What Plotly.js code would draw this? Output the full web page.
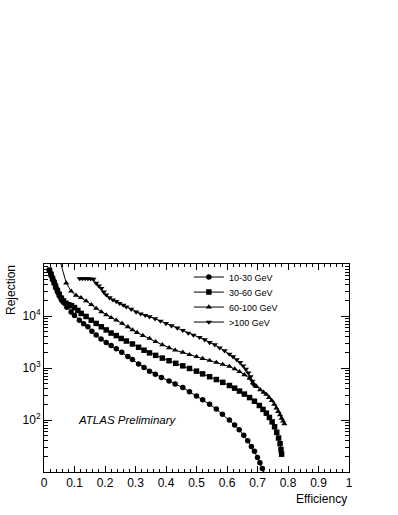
<!DOCTYPE html>
<html>
<head>
<meta charset="utf-8">
<script src="https://cdn.plot.ly/plotly-3.0.1.min.js"></script>
<style>
  html, body { margin: 0; padding: 0; background: white; }
  #chart { width: 398px; height: 515px; }
</style>
</head>
<body>
<div id="chart"></div>
<script>
// efficiency / rejection
const eff10_30 = [0.018, 0.022, 0.026, 0.030, 0.035, 0.040, 0.046, 0.052, 0.058, 0.065, 0.075, 0.089, 0.100, 0.116, 0.130, 0.144, 0.157, 0.171, 0.187, 0.204, 0.220, 0.237, 0.255, 0.275, 0.290, 0.310, 0.328, 0.346, 0.365, 0.385, 0.410, 0.430, 0.455, 0.477, 0.500, 0.520, 0.543, 0.565, 0.585, 0.608, 0.625, 0.640, 0.655, 0.668, 0.680, 0.690, 0.700, 0.708, 0.716, 0.722];
const rej10_30 = [76000, 66000, 57000, 49000, 42000, 34000, 28000, 23500, 20000, 18000, 14800, 12000, 10200, 8300, 7100, 6200, 5100, 4300, 3600, 3100, 2700, 2350, 2000, 1660, 1450, 1200, 1020, 870, 760, 660, 560, 490, 420, 350, 290, 245, 200, 162, 129, 100, 80, 65, 51, 40, 31, 25, 19, 15, 11.7, 9];

const eff30_60 = [0.018, 0.023, 0.028, 0.033, 0.038, 0.044, 0.050, 0.057, 0.064, 0.072, 0.081, 0.090, 0.100, 0.111, 0.122, 0.138, 0.155, 0.171, 0.188, 0.204, 0.220, 0.237, 0.253, 0.270, 0.290, 0.310, 0.328, 0.346, 0.366, 0.388, 0.410, 0.432, 0.455, 0.477, 0.500, 0.520, 0.543, 0.565, 0.586, 0.608, 0.625, 0.641, 0.657, 0.674, 0.690, 0.706, 0.718, 0.729, 0.739, 0.748, 0.756, 0.763, 0.769, 0.774, 0.777, 0.779];
const rej30_60 = [76000, 63000, 52000, 44000, 37000, 31000, 26000, 22000, 19500, 17500, 16500, 15800, 14500, 12800, 11200, 9800, 8300, 7200, 6200, 5400, 4700, 4200, 3700, 3300, 2900, 2500, 2200, 1950, 1750, 1550, 1380, 1230, 1100, 980, 870, 770, 680, 600, 530, 460, 410, 360, 315, 270, 230, 190, 160, 135, 112, 92, 74, 58, 45, 35, 27, 22];

const eff60_100 = [0.050, 0.073, 0.089, 0.105, 0.121, 0.138, 0.155, 0.171, 0.188, 0.204, 0.220, 0.237, 0.256, 0.275, 0.290, 0.305, 0.324, 0.346, 0.366, 0.388, 0.410, 0.430, 0.455, 0.477, 0.500, 0.520, 0.543, 0.565, 0.586, 0.608, 0.625, 0.641, 0.657, 0.674, 0.685, 0.697, 0.709, 0.720, 0.729, 0.738, 0.747, 0.755, 0.762, 0.768, 0.774, 0.779, 0.784, 0.788];
const rej60_100 = [130000, 43000, 30000, 25000, 22500, 19500, 16500, 14000, 12000, 10500, 9300, 8300, 7200, 6200, 5400, 4800, 4200, 3700, 3200, 2800, 2450, 2200, 2000, 1800, 1650, 1520, 1400, 1280, 1170, 1070, 960, 850, 740, 630, 520, 440, 380, 340, 310, 270, 235, 200, 170, 145, 125, 108, 95, 84];

const eff100 = [0.117, 0.126, 0.135, 0.144, 0.153, 0.162, 0.171, 0.180, 0.188, 0.196, 0.204, 0.215, 0.226, 0.237, 0.248, 0.260, 0.270, 0.286, 0.302, 0.317, 0.332, 0.346, 0.364, 0.382, 0.400, 0.418, 0.437, 0.455, 0.473, 0.490, 0.510, 0.527, 0.543, 0.560, 0.576, 0.592, 0.608, 0.620, 0.632, 0.643, 0.653, 0.662, 0.670, 0.677, 0.683, 0.688];
const rej100 = [52500, 52500, 52500, 52500, 52000, 51000, 43000, 38000, 34000, 29000, 25500, 22500, 20500, 19000, 17500, 16200, 15000, 13500, 12000, 11000, 10300, 9700, 8900, 8000, 7200, 6500, 5900, 5300, 4700, 4300, 3900, 3500, 3100, 2800, 2450, 2150, 1850, 1650, 1450, 1280, 1100, 950, 810, 680, 560, 470];

const seriesNames = ["10-30 GeV", "30-60 GeV", "60-100 GeV", ">100 GeV"];
const seriesSymbols = ["circle", "square", "triangle-up", "triangle-down"];
const seriesSizes = [5.5, 5.5, 5.5, 5.5];

const xTickVals = [0, 0.1, 0.2, 0.3, 0.4, 0.5, 0.6, 0.7, 0.8, 0.9, 1];
const xTickText = ["0", "0.1", "0.2", "0.3", "0.4", "0.5", "0.6", "0.7", "0.8", "0.9", "1"];
const yTickVals = [100, 1000, 10000];
const yTickText = ["10<sup>2</sup>", "10<sup>3</sup>", "10<sup>4</sup>"];

// minor ticks of the log axis: 2..9 in each decade
const yMinor = [];
for (let d = 1; d <= 4; d++) {
  for (let m = 2; m <= 9; m++) yMinor.push(m * Math.pow(10, d));
}

const FONT = "Liberation Sans, Arial, Helvetica, sans-serif";

const xs = [eff10_30, eff30_60, eff60_100, eff100];
const ys = [rej10_30, rej30_60, rej60_100, rej100];
const legendIds = ["legend", "legend2", "legend3", "legend4"];
const legendY = [0.9375, 0.865, 0.793, 0.721];

const traces = xs.map((x, i) => ({
  x: x,
  y: ys[i],
  type: "scatter",
  mode: "lines+markers",
  name: seriesNames[i],
  legend: legendIds[i],
  line: { color: "black", width: 1 },
  marker: { symbol: seriesSymbols[i], size: seriesSizes[i], color: "black" },
  cliponaxis: true,
}));

const layout = {
  width: 398,
  height: 515,
  margin: { l: 44, r: 49, t: 264, b: 43 },
  paper_bgcolor: "white",
  plot_bgcolor: "white",
  font: { family: FONT, size: 12, color: "black" },
  showlegend: true,
  xaxis: {
    range: [0, 1],
    tickmode: "array",
    tickvals: xTickVals,
    ticktext: xTickText,
    ticks: "inside",
    ticklen: 6,
    tickwidth: 1,
    tickcolor: "black",
    minor: { dtick: 0.02, ticks: "inside", ticklen: 3, tickcolor: "black", tickwidth: 1 },
    showline: true,
    linecolor: "black",
    linewidth: 1,
    mirror: "ticks",
    showgrid: false,
    zeroline: false,
    tickfont: { size: 12 },
  },
  yaxis: {
    type: "log",
    range: [1, 5],
    tickmode: "array",
    tickvals: yTickVals,
    ticktext: yTickText,
    ticks: "inside",
    ticklen: 8,
    tickwidth: 1,
    tickcolor: "black",
    minor: { tickmode: "array", tickvals: yMinor, ticks: "inside", ticklen: 4, tickcolor: "black", tickwidth: 1 },
    showline: true,
    linecolor: "black",
    linewidth: 1,
    mirror: "ticks",
    showgrid: false,
    zeroline: false,
    tickfont: { size: 12 },
  },
  annotations: [
    {
      text: "ATLAS Preliminary",
      xref: "paper", yref: "paper",
      x: 0.105, y: 0.25,
      xanchor: "left", yanchor: "middle",
      showarrow: false,
      font: { family: FONT, size: 11.5, style: "italic" },
    },
    {
      text: "Rejection",
      xref: "paper", yref: "paper",
      x: 0, y: 1,
      xanchor: "right", yanchor: "top",
      xshift: -24, yshift: 1,
      textangle: -90,
      showarrow: false,
      font: { family: FONT, size: 12 },
    },
    {
      text: "Efficiency",
      xref: "paper", yref: "paper",
      x: 1, y: 0,
      xanchor: "right", yanchor: "top",
      yshift: -18,
      showarrow: false,
      font: { family: FONT, size: 12 },
    },
  ],
};

legendIds.forEach((id, i) => {
  layout[id] = {
    x: 0.475,
    y: legendY[i],
    xanchor: "left",
    yanchor: "middle",
    bgcolor: "rgba(0,0,0,0)",
    borderwidth: 0,
    font: { family: FONT, size: 9, color: "black" },
  };
});

Plotly.newPlot("chart", traces, layout, { staticPlot: true });
</script>
</body>
</html>
